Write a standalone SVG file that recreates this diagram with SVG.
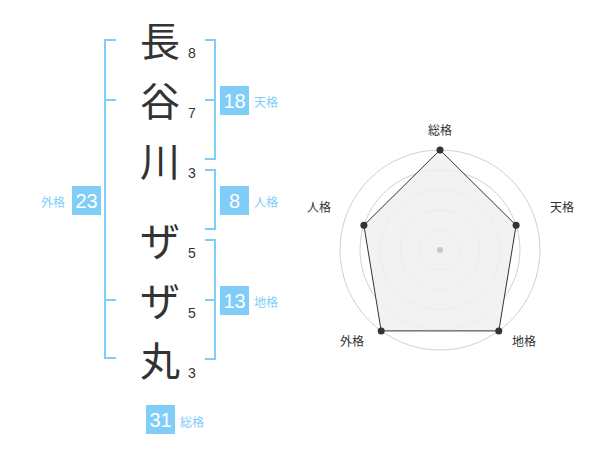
<svg xmlns="http://www.w3.org/2000/svg" width="600" height="470" viewBox="0 0 600 470">
<style>
.ch{font-family:"Noto Sans CJK JP","Noto Sans CJK SC",sans-serif;font-size:40px;fill:#333;text-anchor:middle}
.num{font-family:"Liberation Sans",Arial,sans-serif;font-size:14px;fill:#333;text-anchor:middle}
.br{fill:none;stroke:#80cdf8;stroke-width:2}
.box{fill:#80cdf8}
.bn{font-family:"Liberation Sans",Arial,sans-serif;font-size:20px;fill:#fff;text-anchor:middle}
.bl{font-family:"Noto Sans CJK JP","Noto Sans CJK SC",sans-serif;font-size:12px;fill:#80cdf8}
.rl{font-family:"Noto Sans CJK JP","Noto Sans CJK SC",sans-serif;font-size:12px;fill:#333;text-anchor:middle}
.ring{fill:none;stroke:#d0d0d0;stroke-width:1}
.dot{fill:#333}
</style>
<rect width="600" height="470" fill="#fff"/>
<g id="name">
<text class="ch" x="160" y="56">長</text>
<text class="ch" x="160" y="116">谷</text>
<text class="ch" x="160" y="176">川</text>
<text class="ch" x="160" y="256">ザ</text>
<text class="ch" x="160" y="316">ザ</text>
<text class="ch" x="160" y="376">丸</text>
<text class="num" x="192" y="58">8</text>
<text class="num" x="192" y="118">7</text>
<text class="num" x="192" y="178">3</text>
<text class="num" x="192" y="258">5</text>
<text class="num" x="192" y="318">5</text>
<text class="num" x="192" y="378">3</text>
</g>
<g id="connectors">
<path class="br" d="M116,40H105V358H116M105,100H116M105,300H116"/>
<path class="br" d="M205,40H215V159H205M215,100H205"/>
<path class="br" d="M205,170H215V229H205"/>
<path class="br" d="M205,240H215V359H205M215,300H205"/>
</g>
<g id="gaikaku">
<rect class="box" x="72" y="186" width="29" height="29"/>
<text class="bn" x="86.5" y="207.5">23</text>
<text class="bl" x="41" y="207">外格</text>
</g>
<g id="tenkaku">
<rect class="box" x="220" y="86" width="29" height="29"/>
<text class="bn" x="234.5" y="107.5">18</text>
<text class="bl" x="254" y="107">天格</text>
</g>
<g id="jinkaku">
<rect class="box" x="220" y="186" width="29" height="29"/>
<text class="bn" x="234.5" y="207.5">8</text>
<text class="bl" x="254" y="207">人格</text>
</g>
<g id="chikaku">
<rect class="box" x="220" y="286" width="29" height="29"/>
<text class="bn" x="234.5" y="307.5">13</text>
<text class="bl" x="254" y="307">地格</text>
</g>
<g id="soukaku">
<rect class="box" x="146" y="405" width="29" height="29"/>
<text class="bn" x="160.5" y="426.5">31</text>
<text class="bl" x="180" y="427">総格</text>
</g>
<g id="radar">
<circle class="ring" cx="440" cy="250" r="20"/>
<circle class="ring" cx="440" cy="250" r="40"/>
<circle class="ring" cx="440" cy="250" r="60"/>
<circle class="ring" cx="440" cy="250" r="80"/>
<circle class="ring" cx="440" cy="250" r="100"/>
<polygon points="440,150 516.1,225.3 498.8,330.9 381.2,330.9 363.9,225.3" fill="#f0f0f0" fill-opacity="0.85" stroke="#333" stroke-width="1"/>
<circle cx="440" cy="250" r="3" fill="#c8c8c8"/>
<circle class="dot" cx="440" cy="150" r="3.5"/>
<circle class="dot" cx="516.1" cy="225.3" r="3.5"/>
<circle class="dot" cx="498.8" cy="330.9" r="3.5"/>
<circle class="dot" cx="381.2" cy="330.9" r="3.5"/>
<circle class="dot" cx="363.9" cy="225.3" r="3.5"/>
<text class="rl" x="440" y="135">総格</text>
<text class="rl" x="562" y="212">天格</text>
<text class="rl" x="524" y="346">地格</text>
<text class="rl" x="352" y="346">外格</text>
<text class="rl" x="319" y="212">人格</text>
</g>
</svg>
